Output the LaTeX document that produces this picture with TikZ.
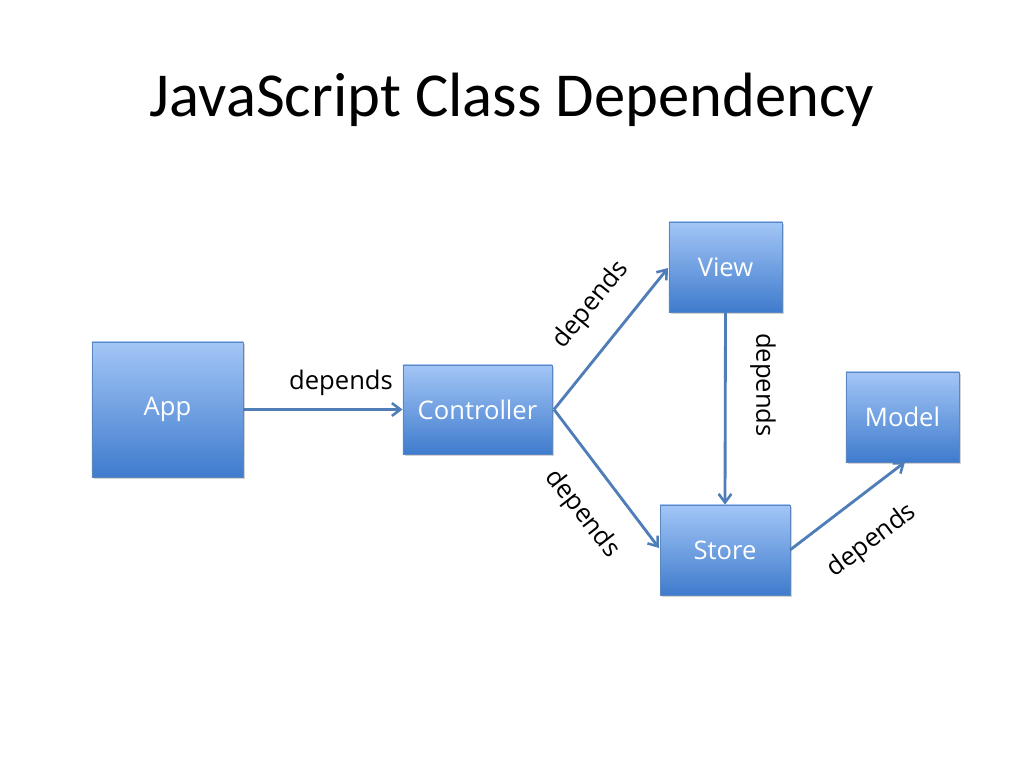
\documentclass[tikz,border=0pt]{standalone}
\usepackage{fontspec}
\setmainfont{Carlito}
\newfontfamily\labelfont{Open Sans}
\usetikzlibrary{arrows.meta,shadows}
\definecolor{boxtop}{HTML}{A3C6F6}
\definecolor{boxbot}{HTML}{3F7BCD}
\definecolor{boxedge}{HTML}{5A87C0}
\definecolor{linkcol}{HTML}{4E7DB8}
\tikzset{
  cls/.style={draw=boxedge, line width=0.6pt, top color=boxtop, bottom color=boxbot,
    text=white, font=\labelfont\fontsize{18}{21}\selectfont,
    drop shadow={shadow xshift=1.5pt, shadow yshift=-1.5pt, opacity=0.35, fill=gray},
    inner sep=0pt},
  link/.style={draw=linkcol, line width=2pt, -{Straight Barb[length=6pt,width=9pt,line width=1.8pt]}},
  lbl/.style={font=\labelfont\fontsize{18}{21}\selectfont, text=black, inner sep=1pt}
}
\begin{document}
\begin{tikzpicture}[x=0.703125pt, y=-0.703125pt]
\useasboundingbox (0,0) rectangle (1024,768);
\node[font=\fontsize{44}{52}\selectfont] (title) at (512,100) {JavaScript Class Dependency};
\node[cls, minimum width=106.2pt, minimum height=95pt] (app) at (167.5,409.5) {App};
\node[cls, minimum width=104.8pt, minimum height=62.6pt] (ctrl) at (477.5,409.5) {Controller};
\node[cls, minimum width=79.5pt, minimum height=63.3pt] (view) at (725.5,267) {View};
\node[cls, minimum width=91.4pt, minimum height=63.3pt] (store) at (725,550) {Store};
\node[cls, minimum width=79.5pt, minimum height=63.3pt] (model) at (902.5,417) {Model};
\coordinate (cr) at (554,409.5);
\coordinate (viewin) at (668,268);
\coordinate (storein) at (659,548);
\coordinate (modelin) at (905,462);
\coordinate (storeout) at (790,550);
\draw[link] (app.east) -- (ctrl.west);
\draw[link] (cr) -- (viewin);
\draw[link] (cr) -- (storein);
\draw[link] (view.south) -- (store.north);
\draw[link] (storeout) -- (modelin);
\node[lbl] (l1) at (341,383) {depends};
\node[lbl, rotate=51] (l2) at (591,305) {depends};
\node[lbl, rotate=-52] (l3) at (582,514) {depends};
\node[lbl, rotate=-90] (l4) at (763,385) {depends};
\node[lbl, rotate=37] (l5) at (872,541) {depends};
\end{tikzpicture}
\end{document}
